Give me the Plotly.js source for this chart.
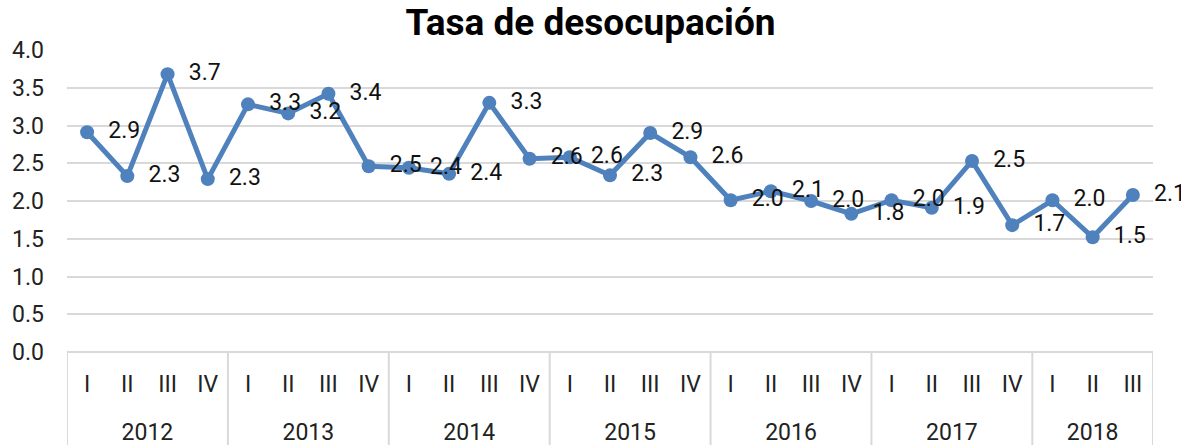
<!DOCTYPE html>
<html>
<head>
<meta charset="utf-8">
<script src="https://cdn.plot.ly/plotly-3.0.1.min.js"></script>
<style>html,body{margin:0;padding:0;background:#fff;}#chart{width:1181px;height:445px;}</style>
</head>
<body>
<div id="chart"></div>
<script>
const years = ["2012","2012","2012","2012","2013","2013","2013","2013","2014","2014","2014","2014","2015","2015","2015","2015","2016","2016","2016","2016","2017","2017","2017","2017","2018","2018","2018"];
const quarters = ["I","II","III","IV","I","II","III","IV","I","II","III","IV","I","II","III","IV","I","II","III","IV","I","II","III","IV","I","II","III"];
const rate = [2.91,2.33,3.68,2.29,3.28,3.16,3.42,2.46,2.44,2.36,3.30,2.56,2.58,2.34,2.90,2.58,2.01,2.13,2.00,1.83,2.01,1.91,2.53,1.68,2.01,1.52,2.08];
const yTicks = [0,0.5,1,1.5,2,2.5,3,3.5,4];

const FONT = "Roboto, 'Open Sans', sans-serif";
const idx = quarters.map((q, i) => i);

// year groups derived from the years array
const yearNames = [], yearCenters = [], bounds = [-0.5];
let start = 0;
for (let i = 1; i <= years.length; i++) {
  if (i === years.length || years[i] !== years[start]) {
    yearNames.push(years[start]);
    yearCenters.push((start + i - 1) / 2);
    bounds.push(i - 0.5);
    start = i;
  }
}

const PLOT_BOTTOM = 0.2354; // fraction of paper used by the category area
const shapes = bounds.map(b => ({
  type: 'line', xref: 'x', yref: 'paper', x0: b, x1: b, y0: 0, y1: PLOT_BOTTOM,
  line: {color: '#d9d9d9', width: 2}, layer: 'below'
}));

const trace = {
  x: idx,
  y: rate,
  type: 'scatter',
  mode: 'lines+markers+text',
  line: {color: '#4F81BD', width: 5},
  marker: {color: '#4F81BD', size: 14},
  texttemplate: '\u00a0\u00a0%{y:.1f}',
  textposition: 'middle right',
  textfont: {family: FONT, size: 23, color: '#111'},
  cliponaxis: false,
  hoverinfo: 'skip'
};
// invisible trace to activate the year axis
const yearTrace = {
  x: yearCenters, y: yearCenters.map(() => null), xaxis: 'x2', yaxis: 'y',
  type: 'scatter', mode: 'markers', showlegend: false, hoverinfo: 'skip'
};
const layout = {
  width: 1181, height: 445,
  margin: {l: 67, r: 28, t: 50, b: 0},
  paper_bgcolor: '#fff', plot_bgcolor: '#fff',
  showlegend: false,
  shapes: shapes,
  title: {text: '<b>Tasa de desocupación</b>', x: 0.5, xanchor: 'center', y: 0.95, yanchor: 'middle',
          font: {family: FONT, size: 37, color: '#000'}},
  xaxis: {
    range: [-0.5, 26.5],
    tickvals: idx,
    ticktext: quarters,
    showgrid: false,
    showline: false,
    zeroline: false,
    ticks: '',
    ticklabelstandoff: 16,
    tickfont: {family: FONT, size: 23, color: '#222'},
    fixedrange: true
  },
  xaxis2: {
    overlaying: 'x',
    anchor: 'free',
    position: 0,
    side: 'top',
    range: [-0.5, 26.5],
    tickvals: yearCenters,
    ticktext: yearNames,
    showgrid: false,
    showline: false,
    zeroline: false,
    ticks: '',
    ticklabelstandoff: 0,
    tickfont: {family: FONT, size: 23, color: '#222'},
    fixedrange: true
  },
  yaxis: {
    domain: [PLOT_BOTTOM, 1],
    range: [0, 4.0],
    tickvals: yTicks,
    ticktext: yTicks.map(v => v.toFixed(1)),
    showgrid: true,
    gridcolor: '#d9d9d9',
    gridwidth: 2,
    zeroline: true,
    zerolinecolor: '#d9d9d9',
    zerolinewidth: 2,
    showline: false,
    ticks: '',
    ticklabelstandoff: 22,
    tickfont: {family: FONT, size: 23, color: '#222'},
    fixedrange: true
  }
};
Plotly.newPlot('chart', [trace, yearTrace], layout, {displayModeBar: false, staticPlot: true});
</script>
</body>
</html>
